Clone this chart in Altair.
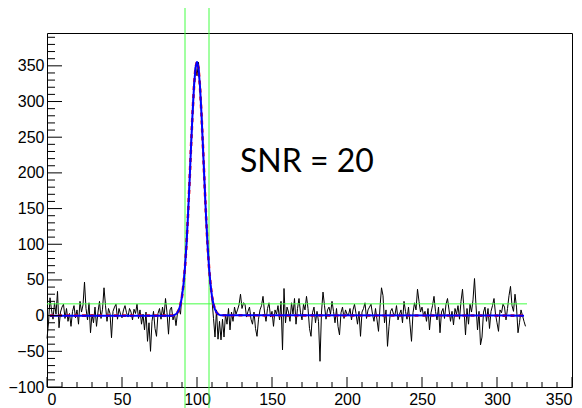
import altair as alt
import pandas as pd

# ---------------- data ----------------
counts = [
    -32, -10, 25, 8, -5, 18, 2, 34, -17, 5,
    12, 16, -4, 10, -8, 3, -15, 6, 14, -3,
    8, -12, 20, 5, 15, 47, 10, -6, 18, -24,
    2, -10, 12, -15, 5, 20, -4, 9, 39, 14,
    -8, 10, 3, -31, 6, 12, 16, -5, 10, 2,
    -3, 8, 14, 4, -2, 10, 5, -6, 9, 3,
    16, -4, 8, -12, 2, -20, 5, -36, -10, -50,
    -8, 6, -18, -29, 3, 10, -5, 12, -2, 24,
    4, -26, 8, 12, -6, 2, -14, 4, 10, 2,
    32, 40, 72, 96, 145, 185, 240, 280, 325, 350,
    336, 355, 318, 285, 232, 190, 136, 104, 64, 46,
    22, -4, -30, 8, -33, -8, -34, -5, -30, 2,
    -12, 10, -20, 5, -8, 12, 2, 8, 15, 30,
    10, 18, 16, -2, 6, 12, -5, -12, 5, -18,
    -29, -5, 8, 14, 27, 5, -8, 10, 18, -2,
    6, -15, 8, 2, 14, -6, 20, -48, 38, -10,
    12, 5, -8, 18, 2, 24, -12, 10, 24, 4,
    -6, 16, 8, 27, 10, -18, -29, 4, 12, -10,
    6, -8, -64, 5, 33, 14, -5, 8, 12, 2,
    20, 6, -10, 10, -15, -27, 4, 12, -4, 8,
    2, 1, 10, -6, 8, 16, 3, -12, 6, -29,
    5, 10, 18, -4, 8, 12, 16, 2, -8, 10,
    -6, -22, 12, 39, 28, -10, 8, -43, -15, 6,
    10, 2, 1, 14, -6, 2, 8, -10, 20, 6,
    -5, 12, -12, -36, 4, 18, 8, 37, 20, 5,
    12, 0, 6, -8, 10, -20, 4, 14, 27, 6,
    -6, 12, -24, 5, 10, -4, 16, 24, 8, -8,
    6, -13, 10, 2, 14, -5, 20, 37, 8, -27,
    10, -12, 16, 5, 22, 52, 14, -20, 6, -41,
    -30, 5, 12, -8, 10, -18, 6, 14, 24, 2,
    -10, -22, 8, 4, 16, 12, -6, 10, 28, 41,
    14, 6, 30, 12, -24, -10, 8, 0, -8, -15,
]
bins = list(range(len(counts)))

fit_x = [2, 84, 85, 86, 87, 88, 89, 90, 91, 92, 93, 94, 95, 96, 97, 98, 99, 100,
         101, 102, 103, 104, 105, 106, 107, 108, 109, 110, 111, 112, 113, 114,
         115, 116, 318]
fit_y = [0, 0, 1.1, 2.2, 4.5, 8.6, 15.6, 26.9, 43.9, 68.1, 100.4, 140.4, 186.6,
         235.5, 282, 321, 347, 356, 347, 321, 282, 235.5, 186.6, 140.4, 100.4,
         68.1, 43.9, 26.9, 15.6, 8.6, 4.5, 2.2, 1.1, 0.5, 0]

cut_x = [92, 108]
threshold_level = 16.5
threshold_from, threshold_to = 0, 320

x_major = [0, 50, 100, 150, 200, 250, 300, 350]
x_minor = [v for v in range(0, 351, 10) if v % 50 != 0]
y_major = [-100, -50, 0, 50, 100, 150, 200, 250, 300, 350]
y_minor = [v for v in range(-100, 396, 10) if v % 50 != 0]
label_text = "SNR = 20"

W, H = 525, 354
xs = alt.Scale(domain=[0, 350], nice=False, zero=False)
ys = alt.Scale(domain=[-100, 396], nice=False, zero=False)

hist_df = pd.DataFrame({"x": bins, "y": counts})
fit_df = pd.DataFrame({"x": fit_x, "y": fit_y})

xaxis = alt.Axis(values=x_major, ticks=False, domain=False, grid=False, title=None,
                 labelFont="Liberation Sans", labelFontSize=16, labelColor="black",
                 labelPadding=4, format="d", labelOverlap=False)
yaxis = alt.Axis(values=y_major, ticks=False, domain=False, grid=False, title=None,
                 labelFont="Liberation Sans", labelFontSize=16, labelColor="black",
                 labelPadding=3, format="d", labelOverlap=False)


def X(field="x:Q"):
    return alt.X(field, scale=xs, axis=xaxis, title=None)


def Y(field="y:Q"):
    return alt.Y(field, scale=ys, axis=yaxis, title=None)


hist = alt.Chart(hist_df).mark_line(color="black", strokeWidth=1).encode(x=X(), y=Y())

red = alt.Chart(fit_df).mark_line(color="#ff0000", strokeWidth=2.6, strokeDash=[4, 4]).encode(
    x=X(), y=Y())
blue = alt.Chart(fit_df).mark_line(color="#0000ff", strokeWidth=2).encode(
    x=X(), y=Y())

vcuts = alt.Chart(pd.DataFrame({"x": cut_x})).mark_rule(color="#44ff44", strokeWidth=1).encode(
    x=X(), y=alt.value(-25), y2=alt.value(H + 21))

hline = alt.Chart(pd.DataFrame({"x": [threshold_from], "x2": [threshold_to], "y": [threshold_level]})).mark_rule(
    color="#44ff44", strokeWidth=1).encode(
    x=X(), x2="x2:Q", y=Y())

ymaj = alt.Chart(pd.DataFrame({"y": y_major})).mark_rule(color="black").encode(
    y=Y(), x=alt.value(0), x2=alt.value(15))
ymin = alt.Chart(pd.DataFrame({"y": y_minor})).mark_rule(color="black").encode(
    y=Y(), x=alt.value(0), x2=alt.value(8))
xmaj = alt.Chart(pd.DataFrame({"x": x_major})).mark_rule(color="black").encode(
    x=X(), y=alt.value(H), y2=alt.value(H - 10))
xmin = alt.Chart(pd.DataFrame({"x": x_minor})).mark_rule(color="black").encode(
    x=X(), y=alt.value(H), y2=alt.value(H - 5))

txt = alt.Chart(pd.DataFrame({"t": [label_text]})).mark_text(
    font="Lato", fontSize=32, color="black", align="left", baseline="alphabetic").encode(
    text="t:N", x=alt.value(193), y=alt.value(139))

chart = alt.layer(hist, vcuts, hline, red, blue, ymaj, ymin, xmaj, xmin, txt).properties(
    width=W, height=H,
    autosize=alt.AutoSizeParams(type="none"),
    padding={"left": 47, "top": 33, "right": 10, "bottom": 21},
    background="white",
).configure_view(stroke="black", strokeWidth=1)

chart.save("out.html", embed_options={"renderer": "svg", "actions": False})
